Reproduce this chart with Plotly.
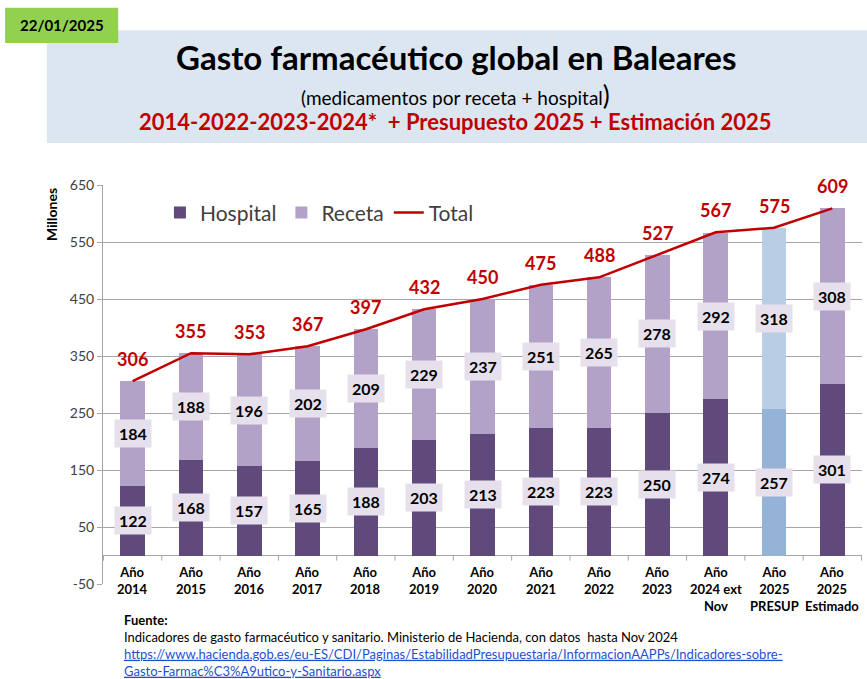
import plotly.graph_objects as go

# ---------------- datos ----------------
anios = ["Año<br>2014", "Año<br>2015", "Año<br>2016", "Año<br>2017", "Año<br>2018",
         "Año<br>2019", "Año<br>2020", "Año<br>2021", "Año<br>2022", "Año<br>2023",
         "Año<br>2024 ext<br>Nov", "Año<br>2025<br>PRESUP", "Año<br>2025<br>Estimado"]
hospital = [122, 168, 157, 165, 188, 203, 213, 223, 223, 250, 274, 257, 301]
receta = [184, 188, 196, 202, 209, 229, 237, 251, 265, 278, 292, 318, 308]
total = [306, 355, 353, 367, 397, 432, 450, 475, 488, 527, 567, 575, 609]

ticks_y = [-50, 50, 150, 250, 350, 450, 550, 650]
ticks_y_txt = ["-50", "50", "150", "250", "350", "450", "550", "650"]

FONT = "Lato"
ROJO = "#c00000"

# el presupuesto 2025 va en azul
col_hosp = ["#95b3d7" if "PRESUP" in a else "#604a7b" for a in anios]
col_rec = ["#b9cde5" if "PRESUP" in a else "#b3a2c7" for a in anios]

fig = go.Figure()
fig.add_trace(go.Bar(x=anios, y=hospital, name="Hospital",
                     marker=dict(color=col_hosp, line_width=0)))
fig.add_trace(go.Bar(x=anios, y=receta, name="Receta",
                     marker=dict(color=col_rec, line_width=0)))
fig.add_trace(go.Scatter(x=anios, y=total, name="Total", mode="lines",
                         line=dict(color=ROJO, width=2.5)))

anots = []
for a, h, r, t in zip(anios, hospital, receta, total):
    # etiquetas de los segmentos con fondo lila
    for base, val in ((0, h), (h, r)):
        anots.append(dict(x=a, y=base + val / 2, xref="x", yref="y", text=f"<b>{val}</b>",
                          showarrow=False, bgcolor="#e6e0ec", borderpad=4,
                          font=dict(family=FONT, size=16, color="black")))
    # total en rojo encima de la línea
    anots.append(dict(x=a, y=t, xref="x", yref="y", yanchor="bottom", yshift=9,
                      text=f"<b>{t}</b>", showarrow=False,
                      font=dict(family=FONT, size=18, color=ROJO)))
    # etiqueta de categoría bajo la línea de cero
    anots.append(dict(x=a, y=0, xref="x", yref="y", yanchor="top", yshift=-6,
                      text=f"<b>{a}</b>", showarrow=False,
                      font=dict(family=FONT, size=13, color="black")))

# marcas entre categorías sobre el eje
shapes = []
for i in range(len(anios) + 1):
    shapes.append(dict(type="line", xref="x", yref="y", x0=i - 0.5, x1=i - 0.5,
                       y0=0, y1=-9, line=dict(color="#a6a6a6", width=1)))

# cabecera
shapes.append(dict(type="rect", xref="paper", yref="paper", x0=-0.074, x1=1.01,
                   y0=1.105, y1=1.388, fillcolor="#dce6f1", line_width=0, layer="below"))
shapes.append(dict(type="rect", xref="paper", yref="paper", x0=-0.129, x1=0.02,
                   y0=1.356, y1=1.444, fillcolor="#92d050", line_width=0))

cab = dict(xref="paper", yref="paper", xanchor="center", yanchor="middle", showarrow=False)
anots += [
    dict(cab, x=-0.054, y=1.4, text="<b>22/01/2025</b>",
         font=dict(family=FONT, size=15, color="black")),
    dict(cab, x=0.465, y=1.321, text="<b>Gasto farmacéutico global en Baleares</b>",
         font=dict(family=FONT, size=33, color="black")),
    dict(cab, x=0.465, y=1.226,
         text="(medicamentos por receta + hospital<span style='font-size:26px'>)</span>",
         font=dict(family=FONT, size=19, color="black")),
    dict(cab, x=0.465, y=1.158,
         text="<b>2014-2022-2023-2024*  + Presupuesto 2025 + Estimación 2025</b>",
         font=dict(family=FONT, size=22, color=ROJO)),
    dict(cab, x=-0.067, y=0.925, text="<b>Millones</b>", textangle=-90,
         font=dict(family=FONT, size=14, color="black")),
    dict(x=0.025, y=-0.064, xref="paper", yref="paper", xanchor="left", yanchor="top",
         align="left", showarrow=False, font=dict(family=FONT, size=13, color="black"),
         text="<b>Fuente:</b><br>Indicadores de gasto farmacéutico y sanitario. Ministerio de "
              "Hacienda, con datos  hasta Nov 2024<br>"
              "<span style='color:#1f4fd1'><u>https://www.hacienda.gob.es/eu-ES/CDI/Paginas/"
              "EstabilidadPresupuestaria/InformacionAAPPs/Indicadores-sobre-</u></span><br>"
              "<span style='color:#1f4fd1'><u>Gasto-Farmac%C3%A9utico-y-Sanitario.aspx</u></span>"),
]

fig.update_layout(
    barmode="stack",
    bargap=0.58,
    width=867, height=679,
    margin=dict(l=103, r=5, t=185, b=95),
    plot_bgcolor="white", paper_bgcolor="white",
    font=dict(family=FONT, color="#404040"),
    legend=dict(orientation="h", x=0.075, y=0.93, xanchor="left", yanchor="middle",
                font=dict(size=21, color="#404040"), bgcolor="rgba(0,0,0,0)",
                traceorder="normal"),
    annotations=anots,
    shapes=shapes,
)
fig.update_xaxes(showticklabels=False, showgrid=False, showline=False, ticks="")
fig.update_yaxes(range=[-50, 650], tickvals=ticks_y, ticktext=ticks_y_txt,
                 showgrid=True, gridcolor="#a6a6a6", gridwidth=1,
                 zeroline=True, zerolinecolor="#a6a6a6", zerolinewidth=1,
                 showline=True, linecolor="#a6a6a6", ticks="outside", ticklen=5,
                 tickcolor="#a6a6a6", tickfont=dict(size=14, color="#404040"))

# quitar el margen del body para que la figura empiece en (0, 0)
fig.write_html("out.html", config={"displayModeBar": False},
               post_script="document.body.style.margin='0';")
